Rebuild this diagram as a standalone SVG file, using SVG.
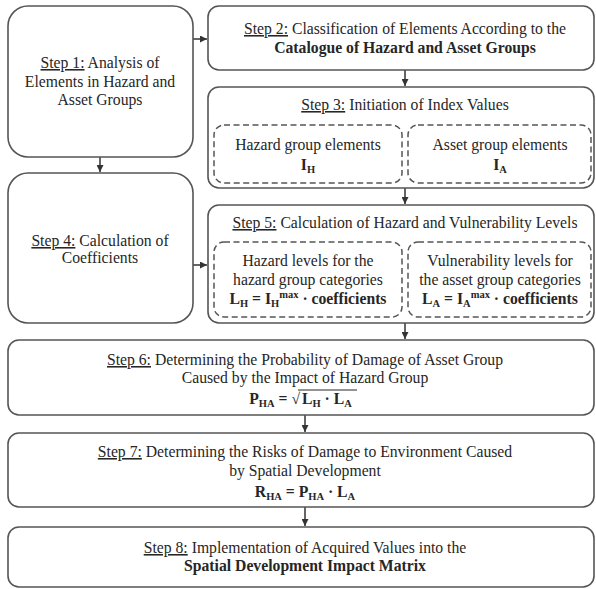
<svg xmlns="http://www.w3.org/2000/svg" width="596" height="589" viewBox="0 0 596 589">
<style>
.box{fill:#fff;stroke:#555;stroke-width:1.6}
.dash{fill:none;stroke:#555;stroke-width:1.5;stroke-dasharray:6 3.5}
.t{font-family:"Liberation Serif","Times New Roman",serif;font-size:15.7px;fill:#262626;text-anchor:middle}
.b{font-weight:bold}
.u{text-decoration:underline}
.s{font-size:10.5px;font-weight:bold}
.c{stroke:#333;stroke-width:1.5;fill:none}
</style>
<defs>
<marker id="ah" viewBox="0 0 8 8" refX="8" refY="4" markerWidth="7" markerHeight="7" markerUnits="userSpaceOnUse" orient="auto">
<path d="M0,0 L8,4 L0,8 Z" fill="#333"/>
</marker>
</defs>
<rect width="596" height="589" fill="#fff"/>

<g id="connectors">
<line class="c" x1="193" y1="39" x2="207" y2="39" marker-end="url(#ah)"/>
<line class="c" x1="405" y1="70" x2="405" y2="86" marker-end="url(#ah)"/>
<line class="c" x1="100" y1="157" x2="100" y2="172" marker-end="url(#ah)"/>
<line class="c" x1="405" y1="188" x2="405" y2="204" marker-end="url(#ah)"/>
<line class="c" x1="193" y1="265" x2="207" y2="265" marker-end="url(#ah)"/>
<line class="c" x1="405" y1="323" x2="405" y2="339" marker-end="url(#ah)"/>
<line class="c" x1="305" y1="415" x2="305" y2="432" marker-end="url(#ah)"/>
<line class="c" x1="305" y1="507" x2="305" y2="526" marker-end="url(#ah)"/>
</g>

<g id="step1">
<rect class="box" x="8" y="6" width="185" height="151" rx="20"/>
<text class="t" x="100" y="68"><tspan class="u">Step 1:</tspan> Analysis of</text>
<text class="t" x="100" y="87">Elements in Hazard and</text>
<text class="t" x="100" y="105">Asset Groups</text>
</g>

<g id="step2">
<rect class="box" x="208" y="6" width="386" height="64" rx="11"/>
<text class="t" x="405" y="34"><tspan class="u">Step 2:</tspan> Classification of Elements According to the</text>
<text class="t b" x="405" y="53">Catalogue of Hazard and Asset Groups</text>
</g>

<g id="step3">
<rect class="box" x="208" y="87" width="386" height="101" rx="11"/>
<text class="t" x="405" y="110"><tspan class="u">Step 3:</tspan> Initiation of Index Values</text>
<g id="hazard-elements">
<rect class="dash" x="214" y="125" width="188" height="58" rx="10"/>
<text class="t" x="308" y="150">Hazard group elements</text>
<text class="t b" x="308" y="170">I<tspan class="s" dy="3">H</tspan></text>
</g>
<g id="asset-elements">
<rect class="dash" x="408" y="125" width="183" height="58" rx="10"/>
<text class="t" x="500" y="150">Asset group elements</text>
<text class="t b" x="500" y="170">I<tspan class="s" dy="3">A</tspan></text>
</g>
</g>

<g id="step4">
<rect class="box" x="8" y="173" width="185" height="150" rx="20"/>
<text class="t" x="100" y="246"><tspan class="u">Step 4:</tspan> Calculation of</text>
<text class="t" x="100" y="263">Coefficients</text>
</g>

<g id="step5">
<rect class="box" x="208" y="205" width="386" height="118" rx="11"/>
<text class="t" x="405" y="228"><tspan class="u">Step 5:</tspan> Calculation of Hazard and Vulnerability Levels</text>
<g id="hazard-levels">
<rect class="dash" x="214" y="242" width="188" height="75" rx="10"/>
<text class="t" x="308" y="266">Hazard levels for the</text>
<text class="t" x="308" y="285">hazard group categories</text>
<text class="t b" x="308" y="304">L<tspan class="s" dy="3">H</tspan><tspan dy="-3"> = I</tspan><tspan class="s" dy="3">H</tspan><tspan class="s" dy="-9">max</tspan><tspan dy="6"> · coefficients</tspan></text>
</g>
<g id="vulnerability-levels">
<rect class="dash" x="408" y="242" width="183" height="75" rx="10"/>
<text class="t" x="500" y="266">Vulnerability levels for</text>
<text class="t" x="500" y="285">the asset group categories</text>
<text class="t b" x="500" y="304">L<tspan class="s" dy="3">A</tspan><tspan dy="-3"> = I</tspan><tspan class="s" dy="3">A</tspan><tspan class="s" dy="-9">max</tspan><tspan dy="6"> · coefficients</tspan></text>
</g>
</g>

<g id="step6">
<rect class="box" x="8" y="340" width="586" height="75" rx="11"/>
<text class="t" x="305" y="365"><tspan class="u">Step 6:</tspan> Determining the Probability of Damage of Asset Group</text>
<text class="t" x="305" y="383">Caused by the Impact of Hazard Group</text>
<text class="t b" x="300" y="404" style="text-anchor:end">P<tspan class="s" dy="3">HA</tspan><tspan dy="-3"> = √</tspan></text>
<text class="t b" x="302" y="404" style="text-anchor:start">L<tspan class="s" dy="3">H</tspan><tspan dy="-3"> · L</tspan><tspan class="s" dy="3">A</tspan></text>
<line x1="298" y1="390" x2="357" y2="390" stroke="#262626" stroke-width="1"/>
</g>

<g id="step7">
<rect class="box" x="8" y="433" width="586" height="74" rx="11"/>
<text class="t" x="305" y="457"><tspan class="u">Step 7:</tspan> Determining the Risks of Damage to Environment Caused</text>
<text class="t" x="305" y="476">by Spatial Development</text>
<text class="t b" x="305" y="497">R<tspan class="s" dy="3">HA</tspan><tspan dy="-3"> = P</tspan><tspan class="s" dy="3">HA</tspan><tspan dy="-3"> · L</tspan><tspan class="s" dy="3">A</tspan></text>
</g>

<g id="step8">
<rect class="box" x="8" y="527" width="586" height="60" rx="11"/>
<text class="t" x="305" y="553"><tspan class="u">Step 8:</tspan> Implementation of Acquired Values into the</text>
<text class="t b" x="305" y="571">Spatial Development Impact Matrix</text>
</g>
</svg>
